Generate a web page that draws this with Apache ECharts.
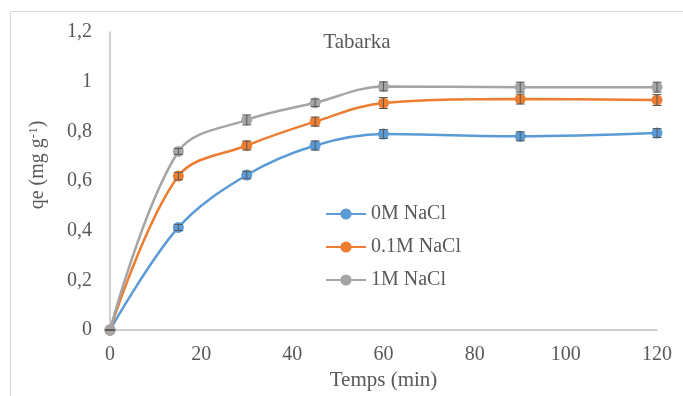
<!DOCTYPE html>
<html><head><meta charset="utf-8">
<script src="https://cdn.jsdelivr.net/npm/echarts@6/dist/echarts.min.js"></script>
<style>html,body{margin:0;padding:0;background:#fff}#c{width:683px;height:396px}</style>
</head><body><div id="c"></div>
<script>
const times = [0, 15, 30, 45, 60, 90, 120];
const seriesNames = ['0M NaCl', '0.1M NaCl', '1M NaCl'];
const q0M = [0, 0.413, 0.624, 0.743, 0.789, 0.780, 0.793];
const q01M = [0, 0.620, 0.743, 0.839, 0.914, 0.930, 0.926];
const q1M = [0, 0.719, 0.846, 0.915, 0.981, 0.978, 0.978];
const err0M = [0, 0.012, 0.015, 0.018, 0.018, 0.018, 0.018];
const err01M = [0, 0.015, 0.018, 0.018, 0.022, 0.020, 0.022];
const err1M = [0, 0.012, 0.020, 0.015, 0.018, 0.020, 0.020];
const yTicks = ['0', '0,2', '0,4', '0,6', '0,8', '1', '1,2'];

const colors = ['#5B9BD5', '#ED7D31', '#A5A5A5'];
const allQ = [q0M, q01M, q1M];
const allE = [err0M, err01M, err1M];
const font = '"Liberation Serif", "Times New Roman", serif';
const textCol = '#595959';

const series = [];
allQ.forEach((q, i) => {
  series.push({
    name: seriesNames[i], type: 'line', smooth: 0.35, z: 3,
    data: times.map((t, k) => [t, q[k]]),
    symbol: 'circle', symbolSize: 11,
    itemStyle: { color: colors[i] },
    lineStyle: { color: colors[i], width: 2.5 }
  });
});
allQ.forEach((q, i) => {
  series.push({
    name: seriesNames[i], type: 'custom', z: 4,
    data: times.map((t, k) => [t, q[k] - allE[i][k], q[k] + allE[i][k]]),
    renderItem: function (params, api) {
      const x = api.value(0);
      const lo = api.coord([x, api.value(1)]);
      const hi = api.coord([x, api.value(2)]);
      const w = 4.5;
      const st = { stroke: '#595959', lineWidth: 1 };
      return { type: 'group', children: [
        { type: 'line', shape: { x1: lo[0], y1: lo[1], x2: hi[0], y2: hi[1] }, style: st },
        { type: 'line', shape: { x1: lo[0] - w, y1: lo[1], x2: lo[0] + w, y2: lo[1] }, style: st },
        { type: 'line', shape: { x1: hi[0] - w, y1: hi[1], x2: hi[0] + w, y2: hi[1] }, style: st }
      ]};
    },
    tooltip: { show: false }, legendHoverLink: false, silent: true
  });
});

const chart = echarts.init(document.getElementById('c'));
chart.setOption({
  animation: false,
  backgroundColor: '#fff',
  graphic: [
    { type: 'rect', shape: { x: 10.5, y: 11.5, width: 700, height: 400 }, style: { fill: 'none', stroke: '#d9d9d9', lineWidth: 1 }, silent: true },
    { type: 'text', x: 38, y: 165, rotation: Math.PI / 2, silent: true,
      style: { text: 'qe (mg g{sup|-1})', align: 'center', verticalAlign: 'middle',
        font: '20px ' + font, fill: textCol,
        rich: { sup: { fontFamily: font, fontSize: 13, fill: textCol, color: textCol, verticalAlign: 'top', padding: [0, 0, 8, 0] } } } }
  ],
  title: { text: 'Tabarka', left: 352, top: 27, textAlign: 'center',
    textStyle: { fontFamily: font, fontSize: 21, fontWeight: 'normal', color: textCol } },
  legend: {
    data: seriesNames,
    orient: 'vertical', left: 320, top: 199, itemGap: 13, itemWidth: 40, itemHeight: 14,
    textStyle: { fontFamily: font, fontSize: 20, color: textCol }
  },
  grid: { left: 110, right: 26, top: 32, bottom: 62, containLabel: false },
  xAxis: {
    type: 'value', min: 0, max: 120, interval: 20,
    name: 'Temps (min)', nameLocation: 'middle', nameGap: 40,
    nameTextStyle: { fontFamily: font, fontSize: 21, color: textCol },
    axisLine: { lineStyle: { color: '#bfbfbf', width: 1.5 } },
    axisTick: { show: false }, splitLine: { show: false },
    axisLabel: { fontFamily: font, fontSize: 20, color: textCol, margin: 15 }
  },
  yAxis: {
    type: 'value', min: 0, max: 1.2, interval: 0.2,
    axisLine: { show: true, lineStyle: { color: '#bfbfbf', width: 1.5 } },
    axisTick: { show: false }, splitLine: { show: false },
    axisLabel: { fontFamily: font, fontSize: 20, color: textCol, margin: 18,
      formatter: (v) => yTicks[Math.round(v / 0.2)] }
  },
  series: series
});
</script></body></html>
